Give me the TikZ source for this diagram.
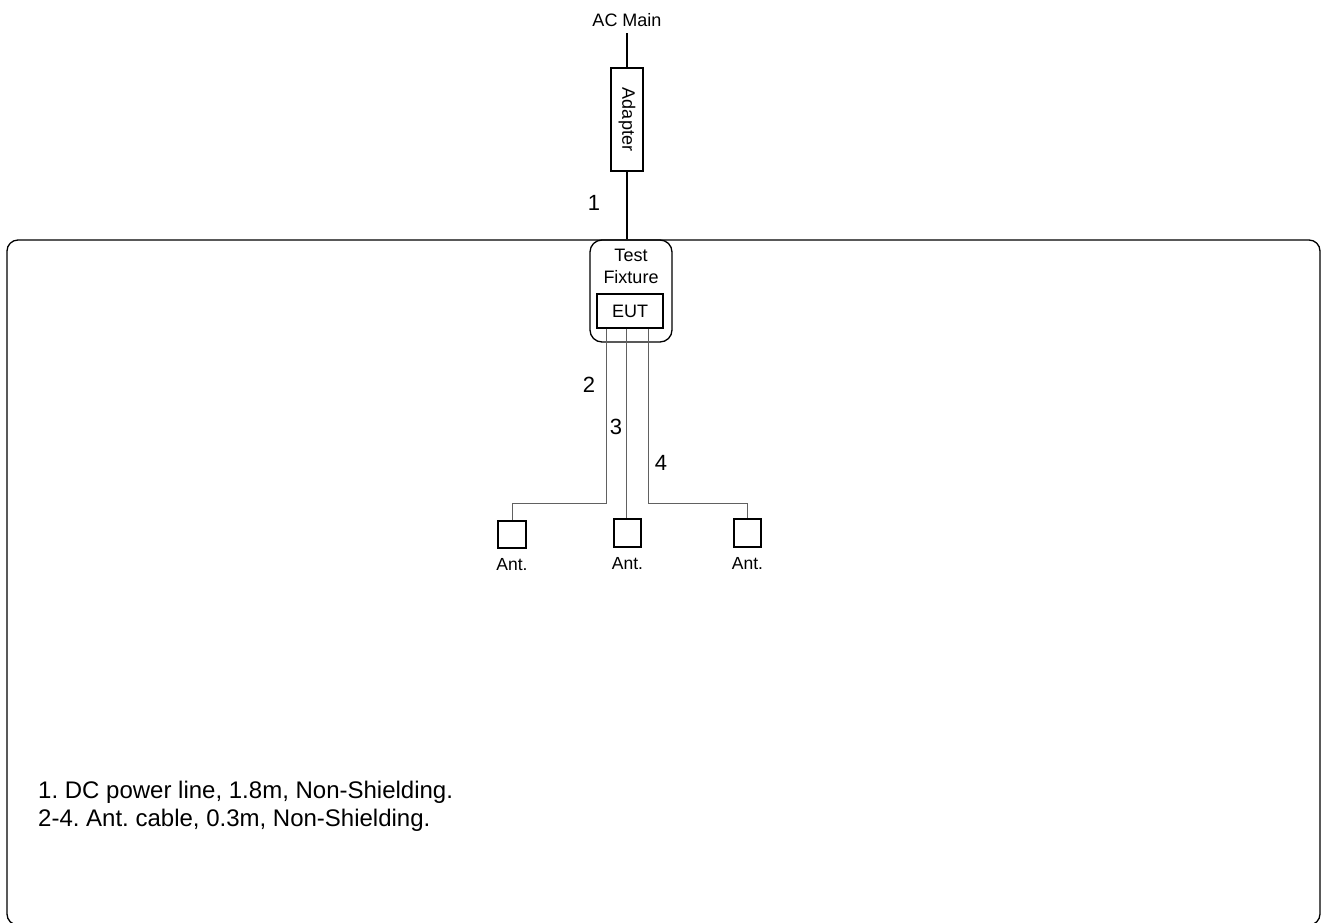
\documentclass[tikz,border=0pt]{standalone}
\usepackage{fontspec}
\setmainfont{Liberation Sans}
\frenchspacing
\begin{document}
\begin{tikzpicture}[x=1pt,y=-1pt,
  wire/.style={line width=1.3pt,black},
  cable/.style={line width=1pt,black!62},
  boxn/.style={draw,line width=1.3pt,inner sep=0pt},
  lbl/.style={inner sep=0pt,font=\fontsize{18}{22}\selectfont},
  num/.style={inner sep=0pt,font=\fontsize{22}{26}\selectfont},
  antl/.style={inner sep=0pt,font=\fontsize{17.5}{20}\selectfont},
  note/.style={inner sep=0pt,align=left,font=\fontsize{24}{27.7}\selectfont}]
\useasboundingbox (0,0) rectangle (1326,922);
% outer frame
\draw[line width=1.3pt,rounded corners=11pt] (7,240) rectangle (1320,925);
% top chain
\node[lbl,inner ysep=6.5pt] (ac) at (627,20) {AC Main};
\node[boxn,minimum width=32pt,minimum height=103pt] (adapter) at (627,119.5) {};
\node[lbl,rotate=-90] at (adapter.center) {Adapter};
\node[boxn,rounded corners=12pt,minimum width=82pt,minimum height=102pt] (fix) at (631,291) {};
\node[lbl,align=center] (fixl) at (631,266) {Test\\Fixture};
\node[boxn,minimum width=66pt,minimum height=34pt] (eut) at (630,311) {};
\node[lbl] at (eut.center) {EUT};
\draw[wire] (ac.south -| adapter.north) -- (adapter.north);
\draw[wire] (adapter.south) -- (adapter.south |- fix.north);
\node[num] (n1) at (594,203) {1};
% antennas
\node[boxn,line width=1.2pt,minimum width=28pt,minimum height=27pt] (ant1) at (512,534.5) {};
\node[boxn,line width=1.2pt,minimum width=27pt,minimum height=28pt] (ant2) at (627.5,533) {};
\node[boxn,line width=1.2pt,minimum width=27pt,minimum height=28pt] (ant3) at (747.5,533) {};
\node[antl] (a1) at (512,565) {Ant.};
\node[antl] (a2) at (627.5,564) {Ant.};
\node[antl] (a3) at (747.5,564) {Ant.};
% cables
\draw[cable] ([xshift=-24pt]eut.south) -- ++(0,175) -| (ant1.north);
\draw[cable] ([xshift=-4pt]eut.south) -- ([xshift=-4pt]eut.south |- ant2.north);
\draw[cable] ([xshift=18pt]eut.south) -- ++(0,175) -| (ant3.north);
\node[num] (n2) at (589,385) {2};
\node[num] (n3) at (616,427) {3};
\node[num] (n4) at (661,463) {4};
% notes
\node[note,anchor=base west] (notes) at (38,826) {1. DC power line, 1.8m, Non-Shielding.\\2-4. Ant. cable, 0.3m, Non-Shielding.};
\end{tikzpicture}
\end{document}
